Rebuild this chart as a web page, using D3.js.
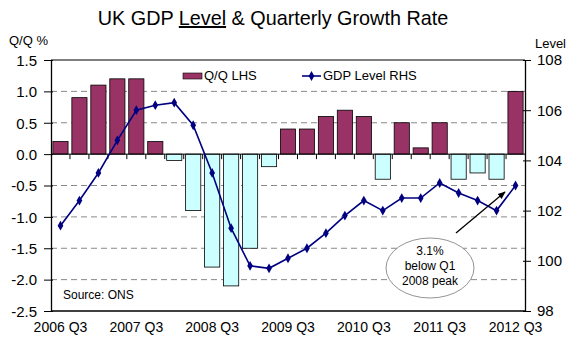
<!DOCTYPE html>
<html>
<head>
<meta charset="utf-8">
<script src="https://cdn.jsdelivr.net/npm/d3@7.9.0/dist/d3.min.js"></script>
<style>
  body { margin: 0; background: #fff; }
  svg { font-family: "Liberation Sans", Arial, sans-serif; }
</style>
</head>
<body>
<svg width="568" height="341"></svg>
<script>
// quarters 2006 Q3 .. 2012 Q3
const quarters = ['2006 Q3','2006 Q4','2007 Q1','2007 Q2','2007 Q3','2007 Q4',
  '2008 Q1','2008 Q2','2008 Q3','2008 Q4','2009 Q1','2009 Q2','2009 Q3','2009 Q4',
  '2010 Q1','2010 Q2','2010 Q3','2010 Q4','2011 Q1','2011 Q2','2011 Q3','2011 Q4',
  '2012 Q1','2012 Q2','2012 Q3'];
// Q/Q growth, % (LHS)
const qoq = [0.2, 0.9, 1.1, 1.2, 1.2, 0.2, -0.1, -0.9, -1.8, -2.1, -1.5, -0.2,
  0.4, 0.4, 0.6, 0.7, 0.6, -0.4, 0.5, 0.1, 0.5, -0.4, -0.3, -0.4, 1.0];
// GDP level index (RHS)
const level = [101.4, 102.4, 103.5, 104.8, 106.0, 106.2, 106.3, 105.4, 103.5, 101.3,
  99.8, 99.7, 100.1, 100.5, 101.1, 101.8, 102.4, 102.0, 102.5, 102.5, 103.1, 102.7,
  102.4, 102.0, 103.0];
const leftTicks = [1.5, 1.0, 0.5, 0.0, -0.5, -1.0, -1.5, -2.0, -2.5];
const rightTicks = [108, 106, 104, 102, 100, 98];
const xLabels = ['2006 Q3', '2007 Q3', '2008 Q3', '2009 Q3', '2010 Q3', '2011 Q3', '2012 Q3'];

const svg = d3.select('svg');
const mLeft = 51, mRight = 525, mTop = 60, mBottom = 311;

let x = d3.scaleBand().domain(quarters).range([mLeft, mRight]).paddingInner(0.2).paddingOuter(0.1);
let yL = d3.scaleLinear().domain([-2.5, 1.5]).range([mBottom, mTop]);
let yR = d3.scaleLinear().domain([98, 108]).range([mBottom, mTop]);
let step = (mRight - mLeft) / quarters.length;

// title
let title = svg.append('text').attr('x', 273).attr('y', 25).attr('text-anchor', 'middle')
  .attr('font-size', 19.8).attr('fill', '#000');
title.append('tspan').text('UK GDP ');
title.append('tspan').attr('text-decoration', 'underline').text('Level');
title.append('tspan').text(' & Quarterly Growth Rate');

svg.append('text').attr('x', 9).attr('y', 45).attr('font-size', 13).text('Q/Q %');
svg.append('text').attr('x', 566).attr('y', 48).attr('text-anchor', 'end').attr('font-size', 13).text('Level');

// gridlines
svg.append('g').selectAll('line').data(leftTicks.filter(d => d !== 0 && d !== -2.5 && d !== 1.5))
  .join('line')
  .attr('x1', mLeft).attr('x2', mRight)
  .attr('y1', d => yL(d)).attr('y2', d => yL(d))
  .attr('stroke', '#888').attr('stroke-dasharray', '6,4');

// top border
svg.append('line').attr('x1', mLeft).attr('x2', mRight).attr('y1', mTop).attr('y2', mTop)
  .attr('stroke', '#555').attr('stroke-width', 1.3);

// bars
svg.append('g').selectAll('rect').data(qoq).join('rect')
  .attr('x', (d, i) => x(quarters[i]))
  .attr('width', x.bandwidth())
  .attr('y', d => yL(Math.max(0, d)))
  .attr('height', d => Math.abs(yL(d) - yL(0)))
  .attr('fill', d => d >= 0 ? '#993366' : '#CCFFFF')
  .attr('stroke', '#000').attr('stroke-width', 0.8);

// zero axis with ticks at category boundaries
svg.append('line').attr('x1', mLeft).attr('x2', mRight).attr('y1', yL(0)).attr('y2', yL(0))
  .attr('stroke', '#000').attr('stroke-width', 1);
svg.append('g').selectAll('line').data(d3.range(1, quarters.length)).join('line')
  .attr('x1', i => mLeft + i * step).attr('x2', i => mLeft + i * step)
  .attr('y1', yL(0)).attr('y2', yL(0) + 5)
  .attr('stroke', '#000');

// left axis
let axL = svg.append('g').attr('transform', `translate(${mLeft},0)`)
  .call(d3.axisLeft(yL).tickValues(leftTicks).tickFormat(d3.format('.1f')).tickSizeInner(7).tickSizeOuter(0));
axL.select('.domain').attr('stroke', '#000').attr('stroke-width', 1.3);
axL.selectAll('text').attr('font-size', 15).attr('x', -14).attr('dy', '0.35em')
  .text(d => d3.format('.1f')(d).replace('−', '-'));
axL.selectAll('.tick line').attr('x2', -7).attr('x1', 2);

// right axis
let axR = svg.append('g').attr('transform', `translate(${mRight},0)`)
  .call(d3.axisRight(yR).tickValues(rightTicks).tickSizeInner(6).tickSizeOuter(0));
axR.select('.domain').attr('stroke', '#000').attr('stroke-width', 1.3);
axR.selectAll('text').attr('font-size', 15).attr('x', 12);
axR.selectAll('.tick line').attr('x1', -2);

// bottom border and x labels
svg.append('line').attr('x1', mLeft).attr('x2', mRight).attr('y1', mBottom).attr('y2', mBottom)
  .attr('stroke', '#000').attr('stroke-width', 1.3);
svg.append('g').selectAll('text').data(xLabels).join('text')
  .attr('x', d => x(d) + x.bandwidth() / 2)
  .attr('y', 332).attr('text-anchor', 'middle').attr('font-size', 14)
  .text(d => d);

// GDP level line
let line = d3.line().x((d, i) => x(quarters[i]) + x.bandwidth() / 2).y(d => yR(d));
svg.append('path').datum(level).attr('d', line)
  .attr('fill', 'none').attr('stroke', '#000080').attr('stroke-width', 1.6);
svg.append('g').selectAll('path').data(level).join('path')
  .attr('d', d3.symbol(d3.symbolDiamond, 28))
  .attr('transform', (d, i) => `translate(${x(quarters[i]) + x.bandwidth() / 2},${yR(d)})`)
  .attr('fill', '#000080');

// legend
svg.append('rect').attr('x', 183).attr('y', 73).attr('width', 19).attr('height', 6)
  .attr('fill', '#993366').attr('stroke', '#000').attr('stroke-width', 0.6);
svg.append('text').attr('x', 204).attr('y', 80).attr('font-size', 13).text('Q/Q LHS');
svg.append('line').attr('x1', 302).attr('x2', 321).attr('y1', 76).attr('y2', 76)
  .attr('stroke', '#000080').attr('stroke-width', 1.6);
svg.append('path').attr('d', d3.symbol(d3.symbolDiamond, 28))
  .attr('transform', 'translate(311.5,76)').attr('fill', '#000080');
svg.append('text').attr('x', 323).attr('y', 80).attr('font-size', 13).text('GDP Level RHS');

svg.append('text').attr('x', 63).attr('y', 299).attr('font-size', 12).text('Source: ONS');

// annotation
svg.append('defs').append('marker').attr('id', 'ah').attr('viewBox', '0 0 10 10')
  .attr('refX', 9).attr('refY', 5).attr('markerWidth', 6).attr('markerHeight', 6)
  .attr('orient', 'auto')
  .append('path').attr('d', 'M0,1 L10,5 L0,9 z').attr('fill', '#000');
svg.append('line').attr('x1', 456).attr('y1', 233).attr('x2', 505).attr('y2', 192)
  .attr('stroke', '#000').attr('stroke-width', 1.3).attr('marker-end', 'url(#ah)');
svg.append('ellipse').attr('cx', 430).attr('cy', 268).attr('rx', 44).attr('ry', 30)
  .attr('fill', '#fff').attr('stroke', '#777').attr('stroke-width', 0.8);
const note = ['3.1%', 'below Q1', '2008 peak'];
svg.append('g').selectAll('text').data(note).join('text')
  .attr('x', 430).attr('y', (d, i) => 255 + i * 15).attr('text-anchor', 'middle')
  .attr('font-size', 12).text(d => d);
</script>
</body>
</html>
